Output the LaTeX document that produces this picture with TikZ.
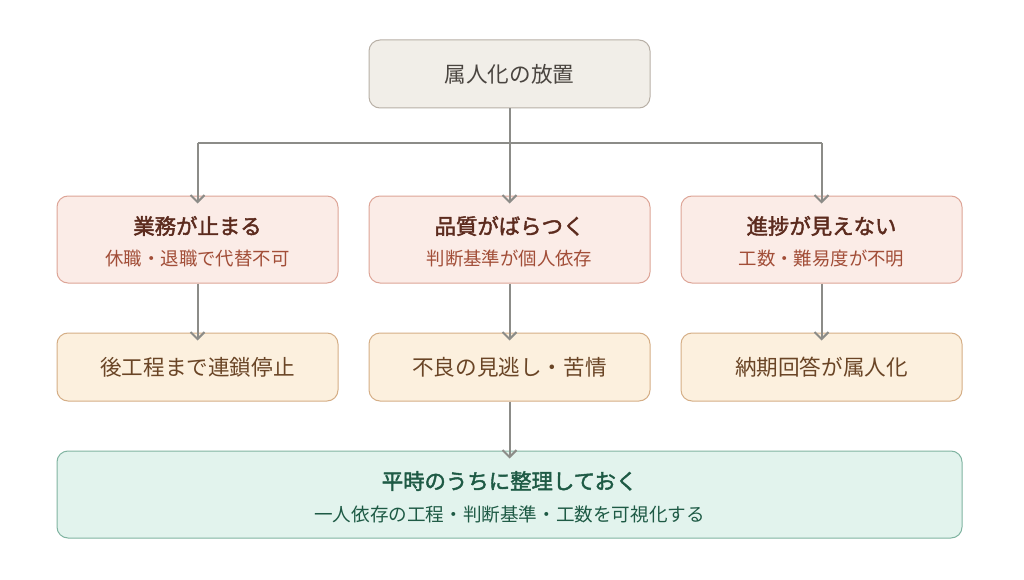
\documentclass[tikz,border=0pt]{standalone}
\usepackage{fontspec}
\setmainfont{Noto Sans CJK JP}
\newfontfamily\cjkbold{Noto Sans CJK JP}[FakeBold=2]
\usetikzlibrary{arrows.meta}
\definecolor{topfill}{HTML}{F1EEE8}
\definecolor{topdraw}{HTML}{B8B0A6}
\definecolor{toptext}{HTML}{4A4540}
\definecolor{pinkfill}{HTML}{FBECE7}
\definecolor{pinkdraw}{HTML}{DDA597}
\definecolor{pinktitle}{HTML}{5C2B1E}
\definecolor{pinksub}{HTML}{A24E38}
\definecolor{tanfill}{HTML}{FCF0DE}
\definecolor{tandraw}{HTML}{D5AE86}
\definecolor{tantext}{HTML}{6A4526}
\definecolor{greenfill}{HTML}{E2F3ED}
\definecolor{greendraw}{HTML}{80B4A1}
\definecolor{greentext}{HTML}{1E5A45}
\definecolor{arrowgray}{HTML}{8C8C88}
\tikzset{
  boxbase/.style={rectangle, rounded corners=11pt, line width=1pt, inner sep=0pt},
  topbox/.style={boxbase, fill=topfill, draw=topdraw, minimum width=281pt, minimum height=68pt, text=toptext, font=\fontsize{21.6}{26}\selectfont},
  pinkbox/.style={boxbase, fill=pinkfill, draw=pinkdraw, minimum width=281pt, minimum height=87pt},
  tanbox/.style={boxbase, fill=tanfill, draw=tandraw, minimum width=281pt, minimum height=68pt, text=tantext, font=\fontsize{21.6}{26}\selectfont},
  greenbox/.style={boxbase, fill=greenfill, draw=greendraw, minimum width=905pt, minimum height=87pt},
  ptitle/.style={text=pinktitle, font=\cjkbold\fontsize{21.4}{26}\selectfont},
  psub/.style={text=pinksub, font=\fontsize{18.4}{22}\selectfont},
  gtitle/.style={text=greentext, font=\cjkbold\fontsize{21.4}{26}\selectfont},
  gsub/.style={text=greentext, font=\fontsize{18.6}{22}\selectfont},
  conn/.style={draw=arrowgray, line width=2pt, -{Straight Barb[length=7pt,width=14pt,line width=2pt]}},
  plain/.style={draw=arrowgray, line width=2pt}
}
\begin{document}
\begin{tikzpicture}[x=1pt,y=-1pt]
\useasboundingbox (0,0) rectangle (1024,580);
\fill[white] (0,0) rectangle (1024,580);
% top
\node[topbox] (top) at (509.5,74) {属人化の放置};
% row 1
\node[pinkbox] (a1) at (197.5,239.5) {};
\node[pinkbox] (b1) at (509.5,239.5) {};
\node[pinkbox] (c1) at (821.5,239.5) {};
\node[ptitle] (a1t) at (197.5,226) {業務が止まる};
\node[psub] (a1s) at (197.5,259) {休職・退職で代替不可};
\node[ptitle] (b1t) at (509.5,226) {品質がばらつく};
\node[psub] (b1s) at (509.5,259) {判断基準が個人依存};
\node[ptitle] (c1t) at (821.5,226) {進捗が見えない};
\node[psub] (c1s) at (821.5,259) {工数・難易度が不明};
% row 2
\node[tanbox] (a2) at (197.5,367) {後工程まで連鎖停止};
\node[tanbox] (b2) at (509.5,367) {不良の見逃し・苦情};
\node[tanbox] (c2) at (821.5,367) {納期回答が属人化};
% bottom
\node[greenbox] (g) at (509.5,494.5) {};
\node[gtitle] (gt) at (509.5,481) {平時のうちに整理しておく};
\node[gsub] (gs) at (509.5,514) {一人依存の工程・判断基準・工数を可視化する};
% connectors
\coordinate (j) at (509.5,143);
\coordinate (jl) at (197.5,143);
\coordinate (jr) at (821.5,143);
\draw[plain] (top.south) -- (j);
\draw[plain] (jl) -- (jr);
\draw[conn] (jl) -- ([yshift=-8pt]a1.north);
\draw[conn] (j) -- ([yshift=-8pt]b1.north);
\draw[conn] (jr) -- ([yshift=-8pt]c1.north);
\draw[conn] (a1.south) -- ([yshift=-8pt]a2.north);
\draw[conn] (b1.south) -- ([yshift=-8pt]b2.north);
\draw[conn] (c1.south) -- ([yshift=-8pt]c2.north);
\draw[conn] (b2.south) -- ([yshift=-8pt]g.north);
\end{tikzpicture}
\end{document}
